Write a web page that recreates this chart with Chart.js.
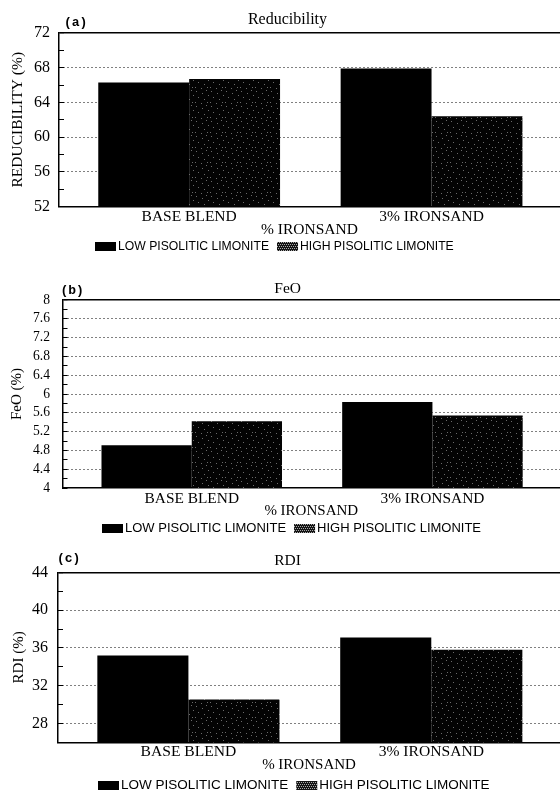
<!DOCTYPE html>
<html>
<head>
<meta charset="utf-8">
<script src="https://cdn.jsdelivr.net/npm/chart.js@4/dist/chart.umd.min.js"></script>
<style>
  html, body { margin: 0; padding: 0; background: #fff; }
  #wrap { position: relative; width: 560px; height: 790px; overflow: hidden; background: #fff; }
  #wrap canvas { position: absolute; left: 0; }
</style>
</head>
<body>
<div id="wrap">
  <canvas id="cA" width="560" height="270" style="top:0px"></canvas>
  <canvas id="cB" width="560" height="270" style="top:270px"></canvas>
  <canvas id="cC" width="560" height="250" style="top:540px"></canvas>
</div>
<script>
// ---------------- data ----------------
const categories = ['BASE BLEND', '3% IRONSAND'];
const seriesNames = ['LOW PISOLITIC LIMONITE', 'HIGH PISOLITIC LIMONITE'];

const reducibilityLow  = [66.3, 67.9];
const reducibilityHigh = [66.7, 62.4];

const feoLow  = [4.91, 5.83];
const feoHigh = [5.42, 5.54];

const rdiLow  = [35.2, 37.1];
const rdiHigh = [30.55, 35.8];

// y-axis ranges: [min, max, minor step, labelled step]
const reducibilityAxis = [52, 72, 2, 4];
const feoAxis          = [4, 8, 0.2, 0.4];
const rdiAxis          = [26, 44, 2, 4];

const xAxisTitle = '% IRONSAND';

// ---------------- helpers ----------------
const SERIF = '"Liberation Serif", "Times New Roman", serif';
const SANS  = '"Liberation Sans", Arial, sans-serif';
const MONO  = '"Liberation Mono", "Courier New", monospace';

function speckle(bg, dot, pts, size) {
  const c = document.createElement('canvas');
  c.width = size; c.height = size;
  const g = c.getContext('2d');
  g.fillStyle = bg; g.fillRect(0, 0, size, size);
  g.fillStyle = dot;
  pts.forEach(p => g.fillRect(p[0], p[1], 1, 1));
  return g.createPattern(c, 'repeat');
}
const highBarFill = speckle('#030303', '#6a6a6a',
  [[1,1],[7,3],[11,0],[3,7],[9,9],[13,5],[0,12],[6,13],[12,12]], 15);
const highSwatch = speckle('#141414', '#a8a8a8', [[0,0],[2,0],[1,2],[3,2]], 4);

const near = (a, b) => Math.abs(a - b) < 1e-6;
const onStep = (v, s) => Math.abs(v / s - Math.round(v / s)) < 1e-6;
const fmt = v => String(Math.round(v * 100) / 100);

// decorations: panel tag, chart title, legend
const panelDecor = {
  id: 'panelDecor',
  afterDraw(chart, args, o) {
    const { ctx, chartArea } = chart;
    ctx.save();
    ctx.fillStyle = '#000';
    ctx.textBaseline = 'middle';
    ctx.textAlign = 'left';
    ctx.font = o.tagFont;
    ctx.fillText(o.tag, chartArea.left + o.tagDx, chartArea.top + o.tagDy);
    ctx.textAlign = 'center';
    ctx.font = o.titleFont;
    ctx.fillText(o.title, o.titleX, chartArea.top + o.titleDy);
    // legend
    ctx.textAlign = 'left';
    ctx.font = o.legendFont;
    let x = o.legendX;
    const y = chartArea.bottom + o.legendDy;
    chart.data.datasets.forEach(ds => {
      ctx.fillStyle = ds.swatch;
      ctx.fillRect(x, Math.round(y - o.boxH / 2), o.boxW, o.boxH);
      x += o.boxW + o.boxGap;
      ctx.fillStyle = '#000';
      ctx.fillText(ds.label, x, y + 0.5);
      x += ctx.measureText(ds.label).width + o.itemGap;
    });
    ctx.restore();
  }
};

function makeChart(id, low, high, axis, p) {
  const [yMin, yMax, yStep, yLabelStep] = axis;
  const toPts = arr => arr.map((v, i) => ({ x: i, y: v }));
  return new Chart(document.getElementById(id), {
    type: 'bar',
    data: {
      datasets: [
        { label: seriesNames[0], data: toPts(low), backgroundColor: '#000', swatch: '#000',
          borderWidth: 0, barPercentage: 1, categoryPercentage: 0.75 },
        { label: seriesNames[1], data: toPts(high), backgroundColor: highBarFill, swatch: highSwatch,
          borderWidth: 0, barPercentage: 1, categoryPercentage: 0.75 }
      ]
    },
    options: {
      responsive: false,
      maintainAspectRatio: false,
      animation: false,
      events: [],
      layout: { padding: { top: p.top, bottom: p.bottomPad, left: 0, right: 0 } },
      plugins: {
        legend: { display: false },
        title: { display: false },
        tooltip: { enabled: false },
        panelDecor: p.decor
      },
      scales: {
        x: {
          type: 'linear',
          min: -0.537, max: 1.53,
          offset: false,
          afterBuildTicks: s => { s.ticks = categories.map((c, i) => ({ value: i })); },
          afterFit: s => { s.height = p.xAxisH; s.paddingLeft = 0; s.paddingRight = 0; },
          grid: { display: false, drawTicks: false, tickLength: 0 },
          border: { display: true, color: '#000', width: 1.5 },
          ticks: {
            autoSkip: false, maxRotation: 0, minRotation: 0,
            padding: p.xTickPad, color: '#000',
            font: { family: SERIF, size: p.xTickFont },
            callback: v => categories[v]
          },
          title: {
            display: true, text: xAxisTitle, color: '#000',
            font: { family: SERIF, size: p.xTitleFont },
            padding: { top: 0, bottom: 0 }
          }
        },
        y: {
          min: yMin, max: yMax,
          afterFit: s => { s.width = p.left; s.paddingTop = 0; s.paddingBottom = 0; },
          ticks: {
            stepSize: yStep, autoSkip: false, padding: p.yTickPad, color: '#000',
            font: { family: SERIF, size: p.yTickFont },
            callback: v => onStep(v, yLabelStep) ? fmt(v) : ''
          },
          grid: {
            drawTicks: true, tickLength: -5, tickColor: '#000', tickWidth: 1, tickBorderDash: [],
            color: c => {
              const v = c.tick ? c.tick.value : NaN;
              if (near(v, yMax)) return '#000';
              if (near(v, yMin)) return 'rgba(0,0,0,0)';
              return onStep(v, yLabelStep) ? '#000' : 'rgba(0,0,0,0)';
            },
            lineWidth: c => (c.tick && near(c.tick.value, yMax)) ? 1.5 : 1
          },
          border: {
            display: true, color: '#000', width: 1.5,
            dash: c => (c.tick && !near(c.tick.value, yMax)) ? [1, 3] : []
          },
          title: {
            display: true, text: p.yTitle, color: '#000',
            font: { family: SERIF, size: p.yTitleFont },
            padding: { top: p.yTitlePad, bottom: 0 }
          }
        }
      }
    },
    plugins: [panelDecor]
  });
}

const legendBase = { boxW: 21, boxH: 9, boxGap: 2, itemGap: 8 };

makeChart('cA', reducibilityLow, reducibilityHigh, reducibilityAxis, {
  left: 59, top: 33, xAxisH: 32.8, bottomPad: 30.7,
  yTickFont: 16, yTickPad: 14, yTitle: 'REDUCIBILITY (%)', yTitleFont: 15.5, yTitlePad: 8.7,
  xTickFont: 15.5, xTickPad: 1.2, xTitleFont: 15.5,
  decor: Object.assign({
    tag: '(a)', tagFont: 'bold 13px ' + MONO, tagDx: 5, tagDy: -10,
    title: 'Reducibility', titleFont: '16px ' + SERIF, titleX: 287.5, titleDy: -13,
    legendFont: '12.2px ' + SANS, legendX: 95, legendDy: 40
  }, legendBase)
});

makeChart('cB', feoLow, feoHigh, feoAxis, {
  left: 62.5, top: 30, xAxisH: 31.7, bottomPad: 20.3,
  yTickFont: 13.6, yTickPad: 17.5, yTitle: 'FeO (%)', yTitleFont: 15, yTitlePad: 8.5,
  xTickFont: 15.4, xTickPad: 1.7, xTitleFont: 15,
  decor: Object.assign({
    tag: '(b)', tagFont: 'bold 13px ' + MONO, tagDx: -2, tagDy: -9.3,
    title: 'FeO', titleFont: '15.5px ' + SERIF, titleX: 287.7, titleDy: -10.7,
    legendFont: '13px ' + SANS, legendX: 102, legendDy: 40.3
  }, legendBase)
});

makeChart('cC', rdiLow, rdiHigh, rdiAxis, {
  left: 58, top: 32.3, xAxisH: 31.5, bottomPad: 16,
  yTickFont: 16, yTickPad: 15, yTitle: 'RDI (%)', yTitleFont: 15, yTitlePad: 10.5,
  xTickFont: 15.6, xTickPad: 0.5, xTitleFont: 15,
  decor: Object.assign({
    tag: '(c)', tagFont: 'bold 13px ' + MONO, tagDx: -1, tagDy: -14,
    title: 'RDI', titleFont: '15.5px ' + SERIF, titleX: 287.6, titleDy: -11.6,
    legendFont: '13.5px ' + SANS, legendX: 98, legendDy: 42.5
  }, legendBase)
});
</script>
</body>
</html>
